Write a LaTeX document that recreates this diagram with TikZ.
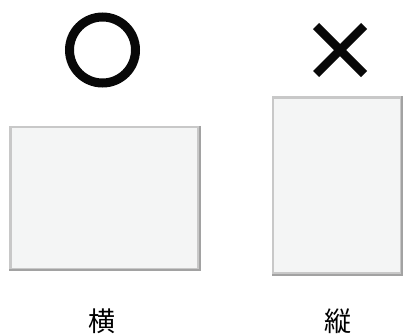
\documentclass[tikz,border=0pt]{standalone}
\usepackage{fontspec}
\newfontfamily\cjk{Noto Sans CJK JP}
\definecolor{panelfill}{HTML}{F4F5F5}
\definecolor{edgelight}{HTML}{C8C8C8}
\definecolor{edgedark}{HTML}{A2A2A2}
\definecolor{inkblack}{HTML}{080808}
\tikzset{
  panel/.style={fill=panelfill, draw=edgelight, line width=2.2pt},
  label/.style={font=\cjk\fontsize{27}{29}\selectfont, inner sep=0pt, text=black},
}
\begin{document}
\begin{tikzpicture}[x=1pt,y=-1pt]
\useasboundingbox (0,0) rectangle (403,333);
% good / bad marks
\node[draw=inkblack, line width=9pt, circle, minimum size=66pt, inner sep=0pt] (ok) at (102.5,50) {};
\coordinate (xa) at (316,26);
\coordinate (xb) at (364,74);
\coordinate (xc) at (364,26);
\coordinate (xd) at (316,74);
\draw[inkblack, line width=8.5pt] (xa) -- (xb) (xc) -- (xd);
% panels
\node[panel, minimum width=188pt, minimum height=142pt, inner sep=0pt] (wide) at (104.5,198) {};
\draw[edgedark, line width=2.2pt] (wide.north east) -- (wide.south east) -- (wide.south west);
\node[panel, minimum width=128pt, minimum height=176pt, inner sep=0pt] (tall) at (337,185.5) {};
\draw[edgedark, line width=2.2pt] (tall.north east) -- (tall.south east) -- (tall.south west);
% labels
\node[label] (yoko) at (102,321) {横};
\node[label] (tate) at (338,321) {縦};
\end{tikzpicture}
\end{document}
